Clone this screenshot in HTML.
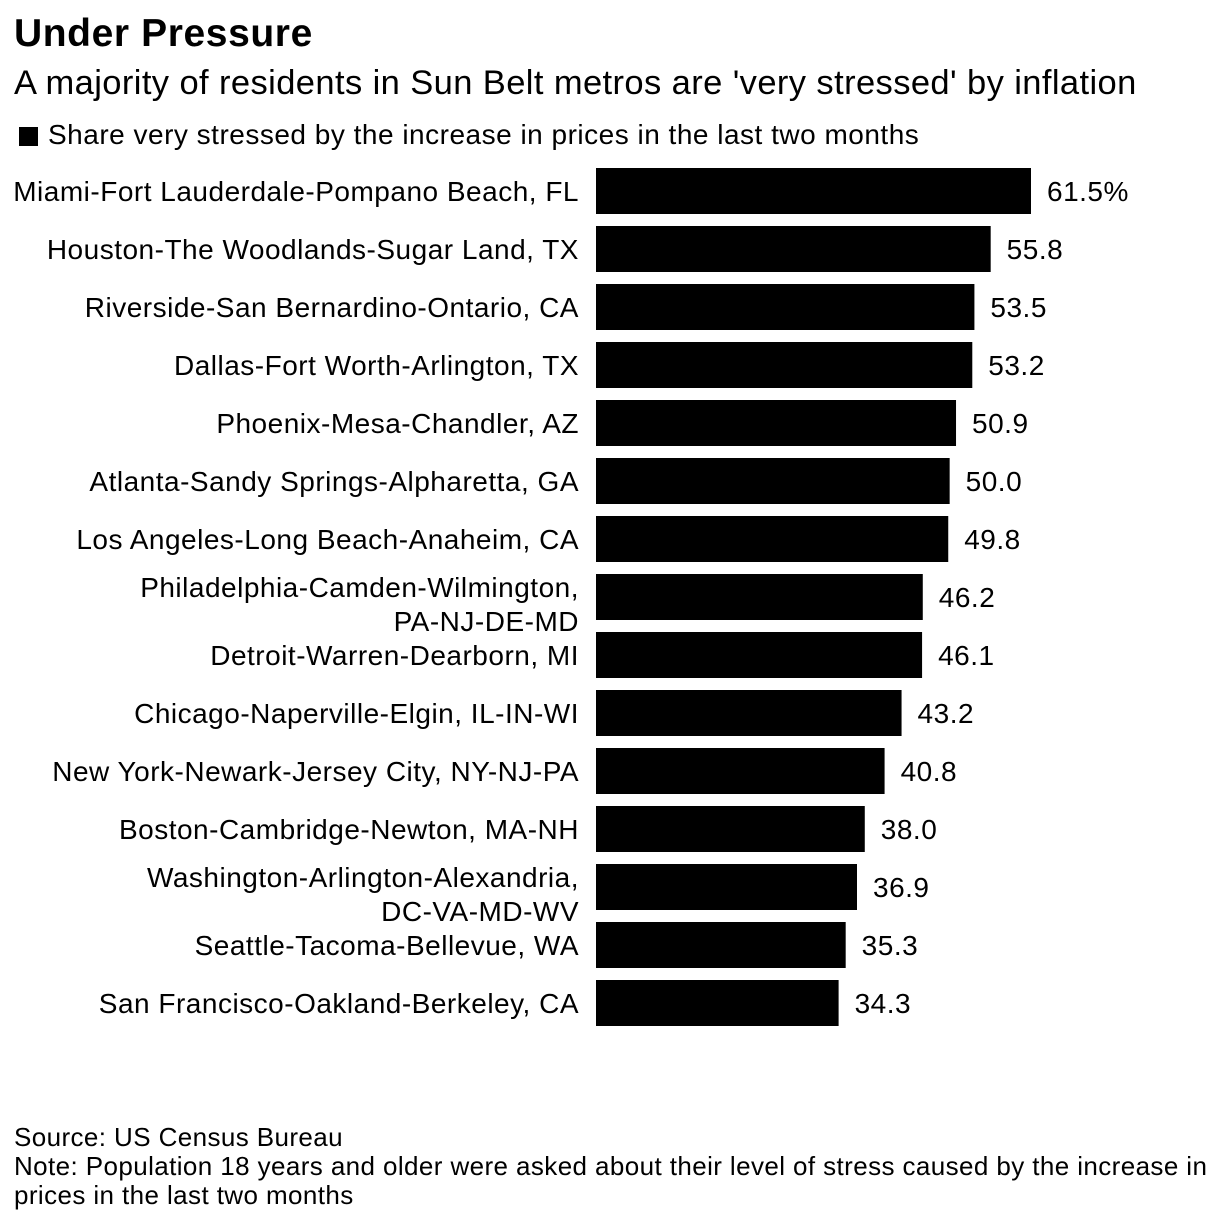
<!DOCTYPE html>
<html><head><meta charset="utf-8"><style>
body{margin:0;background:#fff;width:1219px;height:1225px;overflow:hidden;font-family:"Liberation Sans",Arial,sans-serif;color:#000}
.t{position:absolute;white-space:nowrap}
svg text{letter-spacing:0.5px}
</style></head><body>
<div class="t" style="left:14px;top:12px;font-size:39px;font-weight:bold;letter-spacing:0.6px">Under Pressure</div>
<div class="t" style="left:14px;top:64px;font-size:34.5px;letter-spacing:0.4px">A majority of residents in Sun Belt metros are 'very stressed' by inflation</div>
<div style="position:absolute;left:19px;top:127px;width:19px;height:19px;background:#000"></div>
<div class="t" style="left:48px;top:119px;font-size:28px;letter-spacing:0.5px">Share very stressed by the increase in prices in the last two months</div>
<svg id="chart" width="1219" height="1060" style="position:absolute;left:0;top:0"></svg>
<div class="t" style="left:14px;top:1122px;font-size:26px;letter-spacing:0.4px">Source: US Census Bureau</div>
<div class="t" style="left:14px;top:1152px;font-size:26px;line-height:29px;letter-spacing:0.4px">Note: Population 18 years and older were asked about their level of stress caused by the increase in<br>prices in the last two months</div>
<script>
const categories=[["Miami-Fort Lauderdale-Pompano Beach, FL"],["Houston-The Woodlands-Sugar Land, TX"],["Riverside-San Bernardino-Ontario, CA"],["Dallas-Fort Worth-Arlington, TX"],["Phoenix-Mesa-Chandler, AZ"],["Atlanta-Sandy Springs-Alpharetta, GA"],["Los Angeles-Long Beach-Anaheim, CA"],["Philadelphia-Camden-Wilmington,","PA-NJ-DE-MD"],["Detroit-Warren-Dearborn, MI"],["Chicago-Naperville-Elgin, IL-IN-WI"],["New York-Newark-Jersey City, NY-NJ-PA"],["Boston-Cambridge-Newton, MA-NH"],["Washington-Arlington-Alexandria,","DC-VA-MD-WV"],["Seattle-Tacoma-Bellevue, WA"],["San Francisco-Oakland-Berkeley, CA"]];
const values=[61.5,55.8,53.5,53.2,50.9,50.0,49.8,46.2,46.1,43.2,40.8,38.0,36.9,35.3,34.3];
const valueLabels=["61.5%","55.8","53.5","53.2","50.9","50.0","49.8","46.2","46.1","43.2","40.8","38.0","36.9","35.3","34.3"];
const NS="http://www.w3.org/2000/svg";
const svg=document.getElementById('chart');
const x=v=>596+v*(435/61.5);
const yc=i=>191+i*58;
values.forEach((v,i)=>{
  const r=document.createElementNS(NS,'rect');
  r.setAttribute('x',x(0));r.setAttribute('y',yc(i)-23);
  r.setAttribute('width',x(v)-x(0));r.setAttribute('height',46);r.setAttribute('fill','#000');
  
  
  svg.appendChild(r);
  const t=document.createElementNS(NS,'text');
  t.setAttribute('x',x(v)+16);t.setAttribute('y',yc(i)+10);
  t.setAttribute('font-size','28');t.textContent=valueLabels[i];
  
  
  svg.appendChild(t);
  const lines=categories[i];
  const off=lines.length>1?7:0;
  lines.forEach((ln,j)=>{
    const c=document.createElementNS(NS,'text');
    c.setAttribute('x',579);
    c.setAttribute('y',yc(i)+10+off+(j-(lines.length-1)/2)*34);
    c.setAttribute('text-anchor','end');c.setAttribute('font-size','28');
    c.textContent=ln;
    
    
    svg.appendChild(c);
  });
});
</script>
</body></html>
